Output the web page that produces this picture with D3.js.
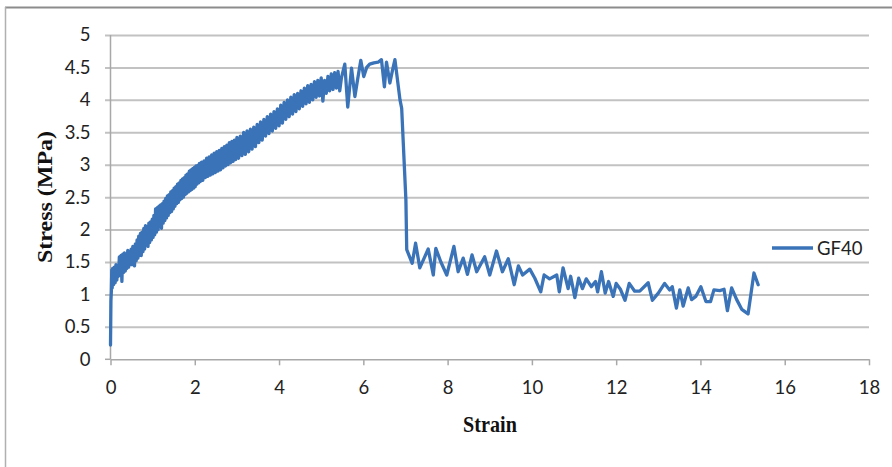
<!DOCTYPE html>
<html>
<head>
<meta charset="utf-8">
<script src="https://cdn.jsdelivr.net/npm/d3@7"></script>
<style>
  html, body { margin: 0; padding: 0; background: #fff; }
  svg { display: block; }
</style>
</head>
<body>
<svg id="chart" width="892" height="467"></svg>
<script>
// ---- Data ----
const seriesName = "GF40";
const strain = [
  // initial rise
  0.00, 0.01, 0.02, 0.03, 0.04, 0.05, 0.07, 0.09,
  // dense band 0.11 - 2.13
  0.11, 0.13, 0.15, 0.17, 0.19, 0.21, 0.23, 0.25, 0.27, 0.29,
  0.31, 0.33, 0.35, 0.37, 0.39, 0.41, 0.43, 0.45, 0.47, 0.49,
  0.51, 0.53, 0.55, 0.57, 0.59, 0.61, 0.63, 0.65, 0.67, 0.69,
  0.71, 0.73, 0.75, 0.77, 0.79, 0.81, 0.83, 0.85, 0.87, 0.89,
  0.91, 0.93, 0.95, 0.97, 0.99, 1.01, 1.03, 1.05, 1.07, 1.09,
  1.11, 1.13, 1.15, 1.17, 1.19, 1.21, 1.23, 1.25, 1.27, 1.29,
  1.31, 1.33, 1.35, 1.37, 1.39, 1.41, 1.43, 1.45, 1.47, 1.49,
  1.51, 1.53, 1.55, 1.57, 1.59, 1.61, 1.63, 1.65, 1.67, 1.69,
  1.71, 1.73, 1.75, 1.77, 1.79, 1.81, 1.83, 1.85, 1.87, 1.89,
  1.91, 1.93, 1.95, 1.97, 1.99, 2.01, 2.03, 2.05, 2.07, 2.09,
  2.11, 2.13,
  // 2.16 - 3.00
  2.16, 2.19, 2.22, 2.25, 2.28, 2.31, 2.34, 2.37, 2.40, 2.43,
  2.46, 2.49, 2.52, 2.55, 2.58, 2.61, 2.64, 2.67, 2.70, 2.73,
  2.76, 2.79, 2.82, 2.85, 2.88, 2.91, 2.94, 2.97, 3.00,
  // 3.04 - 5.48
  3.04, 3.08, 3.12, 3.16, 3.20, 3.24, 3.28, 3.32, 3.36, 3.40,
  3.44, 3.48, 3.52, 3.56, 3.60, 3.64, 3.68, 3.72, 3.76, 3.80,
  3.84, 3.88, 3.92, 3.96, 4.00, 4.04, 4.08, 4.12, 4.16, 4.20,
  4.24, 4.28, 4.32, 4.36, 4.40, 4.44, 4.48, 4.52, 4.56, 4.60,
  4.64, 4.68, 4.72, 4.76, 4.80, 4.84, 4.88, 4.92, 4.96, 5.00,
  5.04, 5.08, 5.12, 5.16, 5.20, 5.24, 5.28, 5.32, 5.36, 5.40,
  5.44, 5.48,
  // peak and failure
  5.56, 5.63, 5.72, 5.80, 5.86, 5.94, 6.01, 6.08, 6.15, 6.25,
  6.35, 6.43, 6.50, 6.55, 6.63, 6.69, 6.75, 6.87, 6.91, 7.01,
  7.03,
  // residual tail
  7.16, 7.24, 7.34, 7.54, 7.66, 7.72, 7.84, 7.98, 8.15,
  8.25, 8.37, 8.47, 8.58, 8.69, 8.88, 9.00, 9.16, 9.30, 9.44,
  9.58, 9.68, 9.78, 9.95, 10.07, 10.21, 10.29, 10.42, 10.59, 10.65,
  10.74, 10.86, 10.92, 11.02, 11.11, 11.20, 11.29, 11.41, 11.51, 11.56,
  11.65, 11.74, 11.82, 11.93, 12.00, 12.10, 12.21, 12.31, 12.44, 12.56,
  12.76, 12.86, 13.00, 13.15, 13.27, 13.33, 13.43, 13.51, 13.59, 13.71,
  13.79, 13.89, 14.01, 14.13, 14.24, 14.32, 14.46, 14.56, 14.64, 14.74,
  14.86, 14.98, 15.13, 15.27, 15.37
];
const stress = [
  // initial rise
  0.22, 0.90, 1.05, 1.38, 1.10, 1.40, 1.15, 1.42,
  // dense band 0.11 - 2.13
  1.18, 1.46, 1.22, 1.44, 1.28, 1.58, 1.30, 1.60, 1.20, 1.62,
  1.34, 1.64, 1.36, 1.56, 1.40, 1.68, 1.42, 1.64, 1.46, 1.70,
  1.46, 1.74, 1.50, 1.44, 1.78, 1.52, 1.84, 1.56, 1.90, 1.60,
  1.94, 1.60, 1.96, 1.66, 2.02, 1.70, 2.06, 1.76, 2.04, 1.74,
  2.10, 1.80, 2.12, 1.84, 2.16, 1.88, 2.22, 1.92, 2.32, 1.96,
  2.34, 2.00, 2.36, 2.06, 2.38, 2.02, 2.40, 2.10, 2.44, 2.14,
  2.48, 2.18, 2.52, 2.22, 2.54, 2.26, 2.58, 2.28, 2.60, 2.32,
  2.64, 2.36, 2.66, 2.40, 2.70, 2.42, 2.72, 2.46, 2.76, 2.48,
  2.78, 2.50, 2.80, 2.54, 2.84, 2.56, 2.86, 2.58, 2.90, 2.60,
  2.92, 2.62, 2.94, 2.64, 2.96, 2.66, 2.98, 2.70, 2.99, 2.72,
  3.02, 2.74,
  // 2.16 - 3.00
  3.04, 2.76, 3.06, 2.80, 3.10, 2.82, 3.12, 2.84, 3.15, 2.86,
  3.18, 2.88, 3.20, 2.90, 3.22, 2.92, 3.25, 2.95, 3.28, 2.98,
  3.30, 3.00, 3.34, 3.03, 3.36, 3.05, 3.38, 3.08, 3.42,
  // 3.04 - 5.48
  3.10, 3.44, 3.14, 3.50, 3.16, 3.52, 3.20, 3.55, 3.24, 3.58,
  3.28, 3.62, 3.34, 3.66, 3.38, 3.70, 3.44, 3.74, 3.48, 3.78,
  3.52, 3.82, 3.56, 3.86, 3.60, 3.92, 3.64, 3.96, 3.70, 4.00,
  3.74, 4.04, 3.78, 4.08, 3.82, 4.10, 3.86, 4.14, 3.90, 4.18,
  3.94, 4.22, 3.96, 4.24, 4.00, 4.28, 4.04, 4.30, 4.06, 4.34,
  3.98, 4.30, 4.10, 4.36, 4.14, 4.40, 4.16, 4.42, 4.18, 4.44,
  4.14, 4.34,
  // peak and failure
  4.55, 3.89, 4.49, 4.05, 4.30, 4.61, 4.36, 4.50, 4.55, 4.57,
  4.58, 4.62, 4.20, 4.58, 4.26, 4.45, 4.62, 4.00, 3.87, 2.46,
  1.69,
  // residual tail
  1.48, 1.79, 1.41, 1.70, 1.30, 1.71, 1.50, 1.30, 1.74,
  1.35, 1.56, 1.31, 1.61, 1.35, 1.58, 1.30, 1.67, 1.35, 1.55,
  1.15, 1.44, 1.30, 1.39, 1.25, 1.04, 1.30, 1.24, 1.30, 1.04,
  1.41, 1.09, 1.28, 0.95, 1.25, 1.09, 1.24, 1.12, 1.20, 1.04,
  1.35, 1.02, 1.20, 0.97, 1.17, 1.08, 0.91, 1.17, 1.05, 1.05,
  1.18, 0.91, 1.02, 1.17, 1.07, 1.12, 0.79, 1.07, 0.82, 1.10,
  0.92, 0.97, 1.12, 0.89, 0.89, 1.07, 1.06, 1.08, 0.75, 1.10,
  0.92, 0.77, 0.70, 1.33, 1.15
];
const xTicks = [0, 2, 4, 6, 8, 10, 12, 14, 16, 18];
const yTicks = [0, 0.5, 1, 1.5, 2, 2.5, 3, 3.5, 4, 4.5, 5];
const xTitle = "Strain";
const yTitle = "Stress (MPa)";

// ---- Chart ----
const svg = d3.select("#chart");
const lineColor = "#3a73b7";
const gridColor = "#c2c2c2";
const tickFont = "Lato, 'Open Sans', sans-serif";
const titleFont = "'Liberation Serif', 'Times New Roman', serif";

const x = d3.scaleLinear().domain([0, 18]).range([110.5, 869]);
const y = d3.scaleLinear().domain([0, 5]).range([359.3, 35]);

// outer frame (top and left edges visible)
svg.append("line").attr("x1", 5).attr("x2", 892).attr("y1", 7.5).attr("y2", 7.5)
  .attr("stroke", "#8c8c8c").attr("stroke-width", 2);
svg.append("line").attr("x1", 5.5).attr("x2", 5.5).attr("y1", 7).attr("y2", 467)
  .attr("stroke", "#b0b0b0").attr("stroke-width", 1.5);

// horizontal gridlines (extend slightly left as tick marks)
const grid = svg.append("g").attr("transform", "translate(869,0)")
  .call(d3.axisLeft(y).tickValues(yTicks.filter(d => d > 0)).tickSize(869 - 105).tickFormat(""));
grid.select(".domain").remove();
grid.selectAll(".tick line").attr("stroke", gridColor).attr("stroke-width", 2);

// y tick labels
const yAx = svg.append("g").attr("transform", "translate(110.5,0)")
  .call(d3.axisLeft(y).tickValues(yTicks).tickSize(0).tickPadding(20).tickFormat(d3.format("")));
yAx.select(".domain").remove();
yAx.selectAll(".tick text").attr("font-family", tickFont).attr("font-size", 18.5).attr("fill", "#222");

// y axis line
svg.append("line").attr("x1", 110.5).attr("x2", 110.5).attr("y1", y(5)).attr("y2", y(0))
  .attr("stroke", "#a8a8a8").attr("stroke-width", 1.5);
svg.append("line").attr("x1", 105).attr("x2", 110.5).attr("y1", y(0)).attr("y2", y(0))
  .attr("stroke", "#a8a8a8").attr("stroke-width", 1.5);

// x axis
const xAx = svg.append("g").attr("transform", `translate(0,${y(0)})`)
  .call(d3.axisBottom(x).tickValues(xTicks).tickSize(6).tickPadding(16).tickSizeOuter(0));
xAx.select(".domain").attr("stroke", "#a8a8a8").attr("stroke-width", 1.5);
xAx.selectAll(".tick line").attr("stroke", "#a8a8a8").attr("stroke-width", 1.5);
xAx.selectAll(".tick text").attr("font-family", tickFont).attr("font-size", 18.5).attr("fill", "#222");

// data line
const pts = strain.map((s, i) => [s, stress[i]]);
svg.append("path").datum(pts)
  .attr("fill", "none").attr("stroke", lineColor).attr("stroke-width", 3.3)
  .attr("stroke-linejoin", "round").attr("stroke-linecap", "round")
  .attr("d", d3.line().x(d => x(d[0])).y(d => y(d[1])));

// axis titles
svg.append("text").attr("transform", "translate(490,432) scale(0.84,1)")
  .attr("text-anchor", "middle").attr("font-family", titleFont).attr("font-weight", "bold")
  .attr("font-size", 24).attr("fill", "#111").text(xTitle);
svg.append("text").attr("transform", "translate(52,197) scale(0.84,1) rotate(-90)")
  .attr("text-anchor", "middle").attr("font-family", titleFont).attr("font-weight", "bold")
  .attr("font-size", 24).attr("fill", "#111").text(yTitle);

// legend
svg.append("line").attr("x1", 772).attr("x2", 813).attr("y1", 248).attr("y2", 248)
  .attr("stroke", lineColor).attr("stroke-width", 3.3);
svg.append("text").attr("x", 817).attr("y", 255)
  .attr("font-family", tickFont).attr("font-size", 18.5).attr("fill", "#222").text(seriesName);
</script>
</body>
</html>
